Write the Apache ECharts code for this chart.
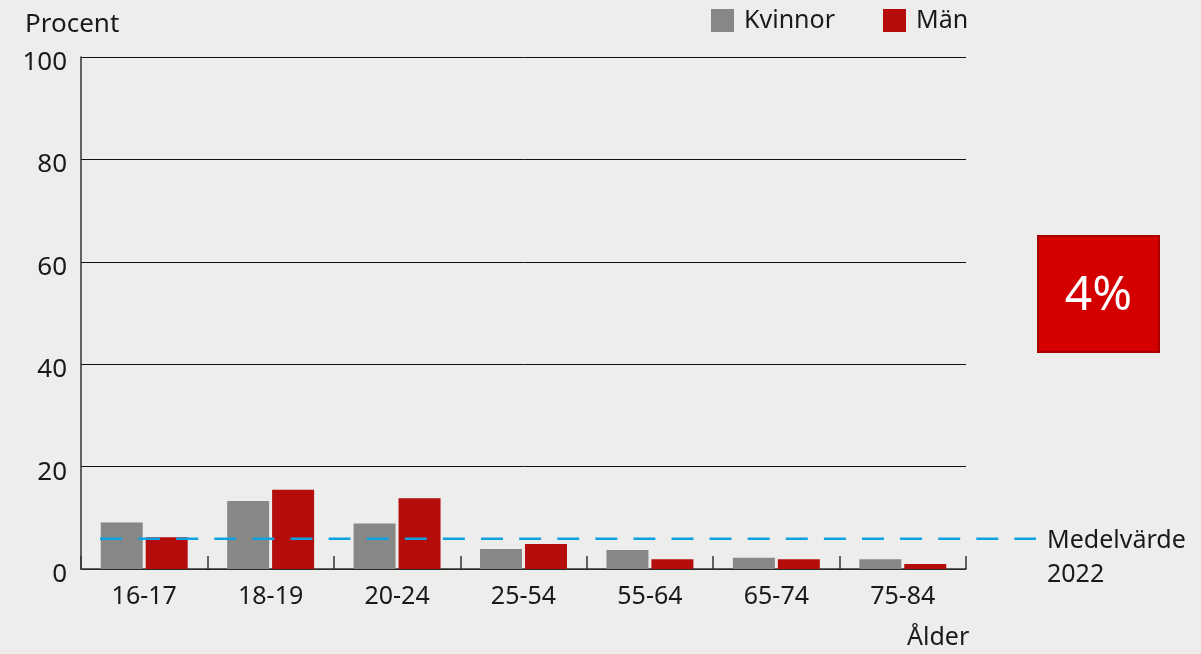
<!DOCTYPE html>
<html>
<head>
<meta charset="utf-8">
<script src="https://cdn.jsdelivr.net/npm/echarts@6/dist/echarts.min.js"></script>
<style>
html,body{margin:0;padding:0;background:#ededeb;}
#c{width:1201px;height:654px;}
</style>
</head>
<body>
<div id="c"></div>
<script>
const categories = ['16-17', '18-19', '20-24', '25-54', '55-64', '65-74', '75-84'];
const kvinnor = [9.1, 13.3, 8.9, 3.9, 3.7, 2.2, 1.9];
const man = [6.2, 15.5, 13.8, 4.9, 1.9, 1.9, 1.0];
const medelvarde = 5.9;
const yTicks = [0, 20, 40, 60, 80, 100];

const FONT = 'Noto Sans';
const TXT = '#1a1a1a';
const chart = echarts.init(document.getElementById('c'), null, {renderer: 'canvas'});
chart.setOption({
  backgroundColor: '#ededeb',
  animation: false,
  textStyle: {fontFamily: FONT},
  title: [
    {text: 'Procent', left: 20, top: 7, textStyle: {fontFamily: FONT, fontSize: 26, fontWeight: 'normal', color: TXT}},
    {text: 'Medelvärde\n2022', left: 1042, top: 519, textStyle: {fontFamily: FONT, fontSize: 25, fontWeight: 'normal', color: TXT, lineHeight: 34}},
    {text: 'Ålder', left: 902, top: 620, textStyle: {fontFamily: FONT, fontSize: 25, fontWeight: 'normal', color: TXT}}
  ],
  legend: {
    data: ['Kvinnor', 'Män'],
    left: 706, top: 3,
    icon: 'rect',
    itemWidth: 23, itemHeight: 23,
    itemGap: 48,
    textStyle: {fontFamily: FONT, fontSize: 25, color: TXT, padding: [0, 0, 0, 5]}
  },
  grid: [
    {left: 81, right: 235, top: 57, bottom: 85},
    {left: 100, right: 165, top: 57, bottom: 85}
  ],
  xAxis: [
    {
      type: 'category', data: categories, gridIndex: 0, boundaryGap: true,
      axisLine: {show: true, lineStyle: {color: '#333', width: 1.5}},
      axisTick: {show: true, inside: true, length: 13, lineStyle: {color: '#333', width: 1.5}},
      axisLabel: {fontFamily: FONT, fontSize: 25, color: TXT, margin: 15},
      splitLine: {show: false}
    },
    {type: 'value', gridIndex: 1, min: 0, max: 1, show: false}
  ],
  yAxis: [
    {
      type: 'value', gridIndex: 0, min: yTicks[0], max: yTicks[yTicks.length - 1], interval: 20,
      axisLine: {show: true, lineStyle: {color: '#333', width: 1.5}},
      axisTick: {show: false},
      axisLabel: {fontFamily: FONT, fontSize: 26, color: TXT, margin: 14, verticalAlign: 'top', lineHeight: 11},
      splitLine: {show: true, lineStyle: {color: '#111', width: 1}}
    },
    {type: 'value', gridIndex: 1, min: 0, max: 100, show: false}
  ],
  series: [
    {name: 'Kvinnor', type: 'bar', data: kvinnor, xAxisIndex: 0, yAxisIndex: 0,
     barWidth: 42, barGap: '7%', itemStyle: {color: '#878786'}},
    {name: 'Män', type: 'bar', data: man, xAxisIndex: 0, yAxisIndex: 0,
     barWidth: 42, barGap: '7%', itemStyle: {color: '#b50c0c'}},
    {name: 'Medelvärde', type: 'line', xAxisIndex: 1, yAxisIndex: 1,
     data: [[0, medelvarde], [1, medelvarde]], symbol: 'none', z: 5,
     lineStyle: {color: '#0ea2e4', width: 2.5, type: [22, 16.1]}}
  ],
  graphic: [
    {type: 'rect', shape: {x: 1038, y: 236, width: 121, height: 116},
     style: {fill: '#d40000', stroke: '#a80000', lineWidth: 2}},
    {type: 'text', x: 1098.5, y: 296,
     style: {text: '4%', fill: '#ffffff', fontFamily: FONT, fontSize: 48, align: 'center', verticalAlign: 'middle'}}
  ]
});
</script>
</body>
</html>
